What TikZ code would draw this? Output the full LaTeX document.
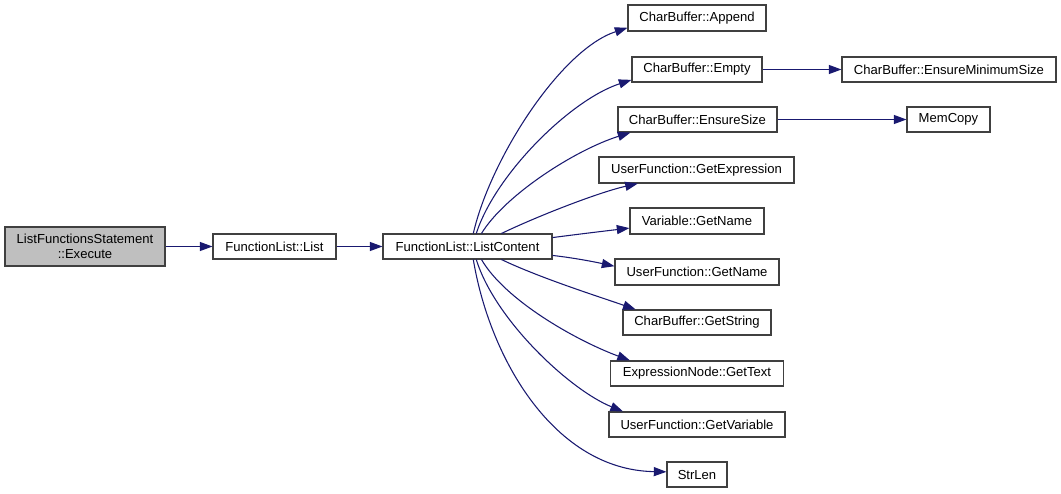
\documentclass[tikz,border=0pt]{standalone}
\usepackage{fontspec}
\setmainfont{Liberation Sans}
\usetikzlibrary{arrows.meta}
\definecolor{edgecol}{HTML}{191970}
\definecolor{boxfill}{HTML}{BFBFBF}
\definecolor{boxline}{HTML}{404040}
\tikzset{
  fn/.style={draw=boxline, line width=0.8pt, fill=white, inner sep=0pt, align=center, font=\fontsize{9.8pt}{11pt}\selectfont},
  edge/.style={draw=edgecol, line width=0.8pt, -{Triangle[length=9.5pt,width=6.8pt]}, fill=none},
}
\begin{document}
\begin{tikzpicture}[x=0.75pt,y=-0.75pt]
\useasboundingbox (0,0) rectangle (1061,493);
\node[fn, fill=boxfill, minimum width=160*0.75pt, minimum height=39*0.75pt] (ex) at (85,246.5) {ListFunctionsStatement\\::Execute};
\node[fn, minimum width=123*0.75pt, minimum height=25*0.75pt] (li) at (274.5,246.5) {FunctionList::List};
\node[fn, minimum width=169*0.75pt, minimum height=25*0.75pt] (lc) at (467.5,246.5) {FunctionList::ListContent};
\node[fn, minimum width=138*0.75pt, minimum height=26*0.75pt] (ap) at (697,18) {CharBuffer::Append};
\node[fn, minimum width=130*0.75pt, minimum height=25*0.75pt] (em) at (697,69.5) {CharBuffer::Empty};
\node[fn, minimum width=214*0.75pt, minimum height=25*0.75pt] (ems) at (949,69.5) {CharBuffer::EnsureMinimumSize};
\node[fn, minimum width=159*0.75pt, minimum height=25*0.75pt] (es) at (697.5,119.5) {CharBuffer::EnsureSize};
\node[fn, minimum width=83*0.75pt, minimum height=25*0.75pt] (mc) at (948.5,119.5) {MemCopy};
\node[fn, minimum width=195*0.75pt, minimum height=26*0.75pt] (ge) at (696.5,170) {UserFunction::GetExpression};
\node[fn, minimum width=134*0.75pt, minimum height=26*0.75pt] (vn) at (697,221) {Variable::GetName};
\node[fn, minimum width=164*0.75pt, minimum height=26*0.75pt] (un) at (697,272) {UserFunction::GetName};
\node[fn, minimum width=148*0.75pt, minimum height=25*0.75pt] (gs) at (697,322.5) {CharBuffer::GetString};
\node[fn, minimum width=173*0.75pt, minimum height=25*0.75pt] (gt) at (697,373.5) {ExpressionNode::GetText};
\node[fn, minimum width=176*0.75pt, minimum height=25*0.75pt] (gv) at (697,424.5) {UserFunction::GetVariable};
\node[fn, minimum width=60*0.75pt, minimum height=25*0.75pt] (sl) at (697,474.5) {StrLen};

\draw[edge] (ex) -- (li);
\draw[edge] (li) -- (lc);
\draw[edge] (em) -- (ems);
\draw[edge] (es) -- (mc);
\draw[edge] (lc.66) .. controls (490,160) and (560,50) .. (ap.188);
\draw[edge] (lc.56) .. controls (495,175) and (570,100) .. (em.189);
\draw[edge] (lc.43) .. controls (505,195) and (575,150) .. (es.191);
\draw[edge] (lc.21) .. controls (540,215) and (600,192) .. (ge.193);
\draw[edge] (lc.6) .. controls (580,234) and (605,231) .. (vn.186);
\draw[edge] (lc.-6) .. controls (575,258) and (595,262) .. (un.176);
\draw[edge] (lc.-21) .. controls (540,278) and (600,297) .. (gs.168);
\draw[edge] (lc.-43) .. controls (505,300) and (575,340) .. (gt.169);
\draw[edge] (lc.-56) .. controls (495,320) and (570,390) .. (gv.170);
\draw[edge] (lc.-66) .. controls (490,360) and (555,470) .. (sl.175);
\end{tikzpicture}
\end{document}
